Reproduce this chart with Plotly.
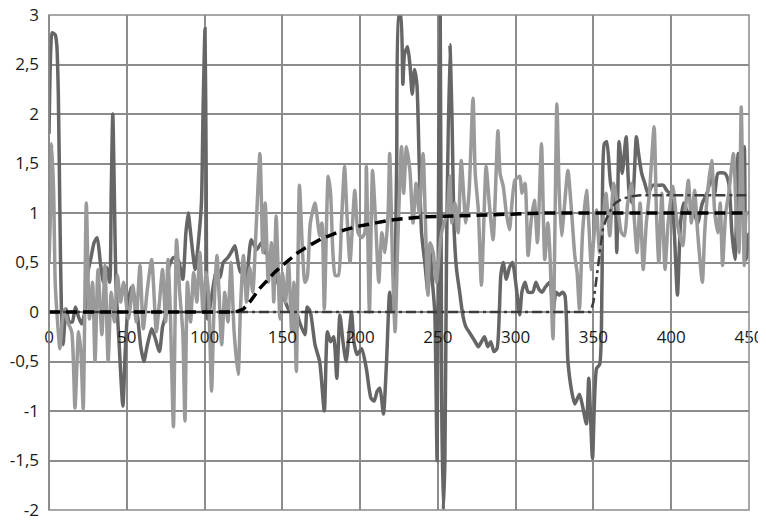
import plotly.graph_objects as go

# dark grey signal
dark_x = [0, 1, 2, 4, 5, 6, 7, 8, 9, 11, 13, 15, 17, 19, 21, 23, 25, 27, 29, 31,
          33, 35, 37, 39, 40, 41, 42, 43, 45, 47.5, 49, 51, 53, 55, 57, 59, 61, 63, 66, 68,
          71, 73, 75.6, 77, 80, 83, 86, 88, 89.5, 91, 94, 96, 98, 99, 100.3, 101, 102, 104, 106, 108,
          110, 112, 115, 117, 119.5, 121, 123, 125, 127, 130, 133.5, 136.7, 139, 141, 143, 145, 147, 150, 152, 155,
          158, 161, 164.5, 166, 168, 171, 174, 177, 179, 181, 183, 185, 187, 189, 191, 193, 194.5, 196, 198, 201,
          204, 207, 209, 211, 212.7, 215, 217, 219, 220.5, 222, 223.5, 225, 226, 227.5, 228.5, 230.5, 232, 233.5, 235, 236.5,
          238, 239.5, 241.6, 243.6, 245, 246.5, 248, 249.5, 250.5, 251.5, 252.5, 253.5, 254.5, 255.5, 257.7, 259, 260.5, 262, 264, 266,
          268, 270, 272, 274, 276, 278, 280, 282, 284, 286, 288, 289.5, 290.5, 292, 294, 296, 298, 300, 302.6, 304,
          306, 308, 311, 313, 315, 317, 319, 322, 324, 326, 328, 330, 331.6, 333.6, 336, 338, 341, 343, 345.5, 347,
          349.4, 352, 354, 355.5, 357, 358.5, 361, 364, 365, 366.5, 368.5, 371, 373, 375, 377.6, 379, 381, 383, 385, 388,
          392, 395, 397, 400, 402, 404, 406, 408, 411, 414, 417, 420, 423, 426, 428, 430, 434.5, 437, 439, 441,
          443, 445, 447, 448, 450]
dark_y = [1.8, 2.6, 2.82, 2.8, 2.7, 2.2, 1.0, 0.0, -0.33, 0.03, -0.1, -0.1, 0.05, -0.05, -0.12, 0.0, 0.4, 0.55, 0.7, 0.75,
          0.5, 0.3, 0.45, 0.3, 1.2, 2.0, 1.2, 0.3, -0.3, -0.95, -0.4, 0.1, 0.25, 0.15, -0.05, -0.35, -0.5, -0.35, -0.17, -0.25,
          -0.4, -0.15, 0.0, 0.45, 0.55, 0.53, 0.33, 0.8, 1.0, 0.8, 0.43, 0.7, 1.1, 2.0, 2.86, 1.5, -0.07, 0.1, 0.3, 0.45,
          0.35, 0.5, 0.55, 0.6, 0.67, 0.55, 0.4, 0.45, 0.33, 0.73, 0.63, 0.7, 0.6, 0.57, 0.45, 0.4, 0.3, 0.2, 0.1, 0.0,
          0.05, -0.1, -0.23, 0.05, 0.0, -0.33, -0.5, -1.0, -0.2, -0.3, -0.25, -0.67, -0.03, -0.3, -0.5, -0.2, 0.0, -0.3, -0.43, -0.37,
          -0.57, -0.87, -0.9, -0.8, -0.77, -1.03, -0.5, 0.2, 0.0, 0.15, 1.5, 3.0, 3.0, 2.3, 2.6, 2.68, 2.5, 2.2, 2.45, 2.3,
          1.5, 0.8, 0.5, 0.2, 0.6, 0.3, 0.0, -1.5, 1.5, 3.0, -1.0, -2.0, -1.5, 0.5, 2.7, 2.0, 0.8, 0.43, 0.2, -0.03,
          -0.15, -0.2, -0.25, -0.3, -0.35, -0.3, -0.25, -0.35, -0.3, -0.4, -0.37, 0.0, 0.38, 0.5, 0.33, 0.45, 0.5, 0.3, -0.03, 0.2,
          0.3, 0.2, 0.2, 0.3, 0.23, 0.2, 0.25, 0.3, 0.0, 0.2, 0.17, 0.2, 0.17, -0.5, -0.8, -0.93, -0.83, -0.95, -1.13, -0.67,
          -1.48, -0.57, -0.53, 0.3, 1.7, 1.72, 1.3, 1.1, 0.6, 1.72, 1.4, 1.77, 1.2, 1.1, 1.77, 1.6, 1.4, 1.3, 1.2, 1.28,
          1.28, 1.28, 1.23, 1.18, 0.8, 0.17, 0.9, 1.1, 1.0, 1.03, 0.9, 1.1, 1.2, 1.37, 1.2, 1.4, 1.4, 1.3, 0.8, 0.53,
          1.6, 1.0, 1.67, 0.53, 0.8]

# light grey signal
light_x = [0, 1, 1.7, 3, 4, 5.5, 7, 8.5, 10, 12, 14.6, 16.7, 19, 20.5, 22, 24, 26, 28, 29.6, 31.5,
           34, 36, 38, 40, 42, 44, 46, 48, 51, 54, 56, 58.5, 60.6, 63, 66, 69, 71, 73, 75, 76.5,
           78, 80, 82, 84, 86, 87.4, 89, 91, 93, 95, 97, 99, 101, 102.5, 104.5, 106, 108, 111, 113, 115,
           117, 119, 121.6, 123, 125, 127, 129, 131, 133, 135.6, 137.5, 139, 141, 143, 144.5, 146, 148.5, 150, 152, 154,
           156, 157.5, 159, 161, 163, 164.5, 166, 168, 171, 174, 175.5, 177, 179.5, 181, 182.5, 184, 186, 188, 190, 191.5,
           193.5, 196.6, 198.7, 201, 203, 204, 206, 208, 210, 212, 214, 216, 218, 219, 221, 222.5, 224, 226.6, 228, 229.8,
           232, 234, 236, 238, 240.5, 242, 243.6, 245, 247, 249, 252, 254, 256, 257.7, 259, 261, 263, 265, 268, 270,
           272.6, 274, 276, 278, 281, 283, 285.5, 288.6, 290, 292, 294, 296, 299.5, 302.7, 304, 306, 308, 310, 312, 314,
           316.6, 318.7, 320.7, 322, 324, 326.5, 328, 329.5, 331, 333.6, 336, 338, 339.5, 341, 343, 345.5, 347, 348.7, 350, 352,
           354, 356, 358, 360.5, 363, 366, 368, 370, 372, 374.5, 376, 378, 380, 382, 384, 386, 389, 390.5, 392, 394,
           396, 398, 401, 403, 405, 407.5, 409, 411, 413, 415, 417, 420, 421.5, 423.5, 426, 428, 430, 431.5, 433, 435,
           437, 440, 442, 443.5, 445, 447, 448.5, 450]
light_y = [0.5, 1.0, 1.7, 1.2, 0.3, -0.1, -0.37, -0.1, 0.03, -0.1, -0.2, -0.97, -0.2, -0.4, -0.98, 1.1, -0.07, 0.3, -0.5, 0.43,
           -0.23, 0.47, -0.5, 0.2, -0.1, 0.37, 0.1, 0.3, -0.07, 0.27, -0.1, 0.47, -0.17, 0.2, 0.53, -0.2, 0.1, 0.43, -0.1, 0.53,
           0.0, -1.16, 0.73, 0.2, -0.2, -1.1, 0.3, -0.1, 0.4, 0.1, 0.6, 0.0, 0.4, 0.2, -0.8, 0.0, 0.57, -0.33, 0.2, -0.1,
           0.5, -0.2, -0.63, 0.0, 0.57, 0.1, 0.45, 0.2, 0.8, 1.6, 0.6, 1.1, 0.3, 0.7, 0.1, 0.97, -0.07, 0.4, 0.1, 0.5,
           -0.2, 0.3, -0.6, 1.28, 0.6, 0.3, 0.35, 0.9, 1.1, 0.77, 0.9, 0.03, 1.37, 1.2, 0.6, 0.37, 0.37, 0.9, 1.47, 1.0,
           0.5, 1.23, 0.8, 0.75, 0.8, 1.47, 0.0, 1.43, 0.9, 0.3, 0.8, 0.6, 1.0, 1.6, 0.4, -0.2, 0.6, 1.67, 1.2, 1.67,
           1.43, 0.9, 1.3, 1.0, 1.6, 0.9, 0.17, 0.7, 0.6, 0.3, 0.77, 0.9, 1.0, 1.37, 0.9, 1.1, 0.8, 1.53, 0.9, 1.2,
           2.16, 1.4, 1.03, 0.27, 1.47, 1.1, 0.73, 1.83, 1.4, 1.27, 1.0, 0.83, 1.33, 1.37, 1.2, 1.3, 0.57, 0.93, 1.13, 0.7,
           1.7, 0.53, 0.9, 0.6, -0.27, 2.1, 1.2, 0.77, 1.0, 1.43, 1.0, 0.57, 0.4, 0.03, 0.8, 1.23, 0.9, 0.43, 0.7, 1.03,
           0.6, 0.9, 1.2, 0.77, 1.3, 1.0, 0.8, 0.77, 1.1, 1.3, 1.0, 0.6, 1.1, 0.43, 0.9, 1.2, 1.87, 1.0, 0.5, 1.2,
           0.43, 0.9, 1.27, 1.0, 0.8, 0.67, 1.0, 1.33, 0.9, 1.23, 0.8, 0.3, 0.8, 1.23, 1.53, 1.0, 0.8, 1.1, 0.47, 1.0,
           1.2, 1.6, 0.9, 0.6, 2.07, 0.47, 1.0, 1.0]

# black dashed curve
dash_x = [0, 120, 125, 130, 135, 140, 145, 150, 155, 160, 165, 170, 175, 180, 185, 190, 195, 200, 210, 220,
          230, 240, 250, 260, 280, 300, 320, 450]
dash_y = [0, 0, 0.03, 0.12, 0.23, 0.32, 0.4, 0.47, 0.54, 0.6, 0.65, 0.7, 0.74, 0.77, 0.8, 0.83, 0.85, 0.87, 0.9, 0.93,
          0.945, 0.96, 0.965, 0.97, 0.98, 0.99, 1.0, 1.0]

# dash-dot step
step_x = [0, 348, 350, 352, 354, 356, 358, 360, 362, 364, 367, 370, 375, 380, 450]
step_y = [0, 0, 0.1, 0.35, 0.6, 0.83, 0.93, 1.0, 1.06, 1.1, 1.13, 1.15, 1.17, 1.18, 1.18]

x_ticks = [0, 50, 100, 150, 200, 250, 300, 350, 400, 450]
y_ticks = [-2, -1.5, -1, -0.5, 0, 0.5, 1, 1.5, 2, 2.5, 3]
y_labels = ["-2", "-1,5", "-1", "-0,5", "0", "0,5", "1", "1,5", "2", "2,5", "3"]

grid = "#8c8c8c"
font = dict(family="Open Sans", size=17, color="#1a1a1a")

fig = go.Figure()
fig.add_trace(go.Scatter(x=dark_x, y=dark_y, mode="lines",
                         line=dict(color="#666666", width=3.5, shape="spline", smoothing=0.6)))
fig.add_trace(go.Scatter(x=light_x, y=light_y, mode="lines",
                         line=dict(color="#9a9a9a", width=3.5, shape="spline", smoothing=0.6)))
fig.add_trace(go.Scatter(x=step_x, y=step_y, mode="lines",
                         line=dict(color="#3c3c3c", width=2.5, dash="10px,4px,3px,4px")))
fig.add_trace(go.Scatter(x=dash_x, y=dash_y, mode="lines",
                         line=dict(color="black", width=3.5, dash="11px,6px")))

fig.update_xaxes(range=[0, 450], tickvals=x_ticks, showgrid=True, gridcolor=grid, gridwidth=1.5,
                 zeroline=True, zerolinecolor=grid, zerolinewidth=1.5,
                 anchor="free", position=0.4, showline=False, automargin=False,
                 ticklabeloverflow="allow",
                 ticks="", ticklabelstandoff=13, tickfont=font)
fig.update_yaxes(range=[-2, 3], tickvals=y_ticks, ticktext=y_labels, showgrid=True,
                 gridcolor=grid, gridwidth=1.5, zeroline=True, zerolinecolor=grid, zerolinewidth=1.5,
                 automargin=False, ticklabeloverflow="allow",
                 ticks="", ticklabelstandoff=9, tickfont=font)

fig.add_shape(type="rect", xref="paper", yref="paper", x0=0, y0=0, x1=1, y1=1,
              line=dict(color=grid, width=1.5))

# page body adds an 8px offset, so the figure is 8px smaller and margins shifted
fig.update_layout(width=758, height=512, margin=dict(l=41, r=17, t=7, b=10),
                  plot_bgcolor="white", paper_bgcolor="white", showlegend=False)

fig.write_html("out.html")
